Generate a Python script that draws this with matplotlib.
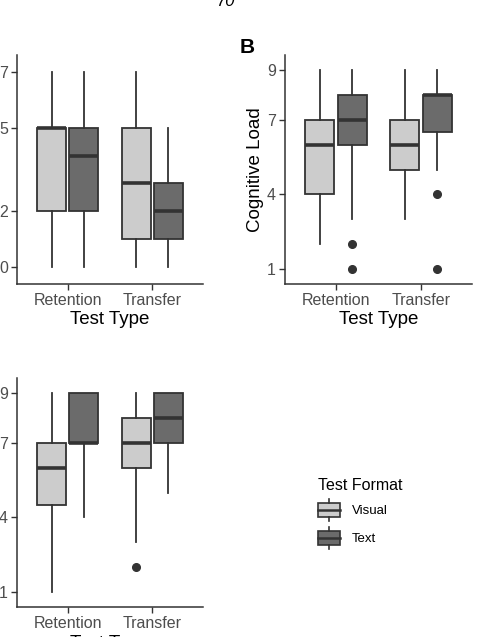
import matplotlib
matplotlib.use("Agg")
import matplotlib.pyplot as plt
from matplotlib.legend_handler import HandlerBase
from matplotlib.patches import Rectangle, Patch
from matplotlib.lines import Line2D

plt.rcParams['font.family'] = ['Liberation Sans', 'DejaVu Sans']

categories = ["Retention", "Transfer"]
formats = ["Visual", "Text"]
fill_colors = {"Visual": "#CCCCCC", "Text": "#6B6B6B"}

# Panel A (score) : [Retention, Transfer]
A_visual = dict(lo=[0, 0], q1=[2, 1], med=[5, 3], q3=[5, 5], hi=[7, 7], fl=[[], []])
A_text = dict(lo=[0, 0], q1=[2, 1], med=[4, 2], q3=[5, 3], hi=[7, 5], fl=[[], []])
A_ticks = [0, 2, 5, 7]

# Panel B (Cognitive Load)
B_visual = dict(lo=[2, 3], q1=[4, 5], med=[6, 6], q3=[7, 7], hi=[9, 9], fl=[[], []])
B_text = dict(lo=[3, 5], q1=[6, 6.5], med=[7, 8], q3=[8, 8], hi=[9, 9], fl=[[2, 1], [4, 1]])
B_ticks = [1, 4, 7, 9]

# Panel C
C_visual = dict(lo=[1, 3], q1=[4.5, 6], med=[6, 7], q3=[7, 8], hi=[9, 9], fl=[[], [2]])
C_text = dict(lo=[4, 5], q1=[7, 7], med=[7, 8], q3=[9, 9], hi=[9, 9], fl=[[], []])
C_ticks = [1, 4, 7, 9]

W, H = 488, 637
fig = plt.figure(figsize=(W / 100, H / 100), dpi=100)

EDGE = "#333333"


def px_axes(left, top, right, bottom):
    return fig.add_axes([left / W, 1 - bottom / H, (right - left) / W, (bottom - top) / H])


def draw_panel(ax, vis, txt, ticks, ylim, ylabel=None):
    offs = {"Visual": -0.19, "Text": 0.19}
    for fmt, d in (("Visual", vis), ("Text", txt)):
        stats = []
        for i in range(len(categories)):
            stats.append(dict(med=d["med"][i], q1=d["q1"][i], q3=d["q3"][i],
                              whislo=d["lo"][i], whishi=d["hi"][i], fliers=d["fl"][i]))
        pos = [i + 1 + offs[fmt] for i in range(len(categories))]
        ax.bxp(stats, positions=pos, widths=0.34, patch_artist=True, showcaps=False,
               boxprops=dict(facecolor=fill_colors[fmt], edgecolor=EDGE, linewidth=1.3),
               medianprops=dict(color=EDGE, linewidth=2.6, solid_capstyle='butt'),
               whiskerprops=dict(color=EDGE, linewidth=1.3),
               flierprops=dict(marker='o', markerfacecolor=EDGE, markeredgecolor=EDGE,
                               markersize=5.5),
               manage_ticks=False)
    ax.set_xlim(0.4, 2.6)
    ax.set_ylim(*ylim)
    ax.set_xticks([1, 2])
    ax.set_xticklabels(categories)
    ax.set_yticks(ticks)
    ax.set_yticklabels([str(t) for t in ticks])
    for s in ("top", "right"):
        ax.spines[s].set_visible(False)
    for s in ("left", "bottom"):
        ax.spines[s].set_color("#333333")
        ax.spines[s].set_linewidth(1.1)
    ax.tick_params(axis='both', colors="#333333", length=4, width=1.0,
                   labelsize=11.5, labelcolor="#4D4D4D", pad=2.5)
    ax.set_xlabel("Test Type", fontsize=13.5, color="black", labelpad=2.5)
    if ylabel:
        ax.set_ylabel(ylabel, fontsize=13.5, color="black", labelpad=2)


axA = px_axes(17, 55, 203, 284)
draw_panel(axA, A_visual, A_text, A_ticks, (-0.6, 7.6))
axB = px_axes(285, 55, 472, 284)
draw_panel(axB, B_visual, B_text, B_ticks, (0.4, 9.6), ylabel="Cognitive Load")
axC = px_axes(17, 378, 203, 607)
draw_panel(axC, C_visual, C_text, C_ticks, (0.4, 9.6))

fig.text(240 / W, 1 - 53 / H, "B", fontsize=15, fontweight='bold', va='baseline', ha='left')
fig.text(226 / W, 1 - 1 / H, "70", fontsize=12, style='italic', va='center', ha='center')


class BoxKeyHandler(HandlerBase):
    def create_artists(self, legend, orig_handle, xdescent, ydescent, width, height,
                       fontsize, trans):
        fc = orig_handle.get_facecolor()
        bh = height * 0.64
        y0 = -ydescent + (height - bh) / 2
        x0 = -xdescent
        rect = Rectangle((x0, y0), width, bh, facecolor=fc, edgecolor=EDGE,
                         linewidth=1.2, transform=trans)
        xm = x0 + width / 2
        top = Line2D([xm, xm], [y0 + bh, -ydescent + height], color=EDGE, lw=1.2, transform=trans)
        bot = Line2D([xm, xm], [-ydescent, y0], color=EDGE, lw=1.2, transform=trans)
        med = Line2D([x0, x0 + width], [y0 + bh / 2, y0 + bh / 2], color=EDGE, lw=1.8,
                     transform=trans)
        return [rect, top, bot, med]


handles = [Patch(facecolor=fill_colors[f], edgecolor=EDGE) for f in formats]
leg = fig.legend(handles, formats, loc='upper left',
                 bbox_to_anchor=(306 / W, 1 - 466 / H),
                 handler_map={Patch: BoxKeyHandler()},
                 title="Test Format", title_fontsize=11.5, fontsize=9.5,
                 frameon=False, alignment='left', handlelength=1.65, handleheight=2.2,
                 handletextpad=0.9, labelspacing=0.45, borderpad=0.4)

fig.savefig("out.png", dpi=100)
